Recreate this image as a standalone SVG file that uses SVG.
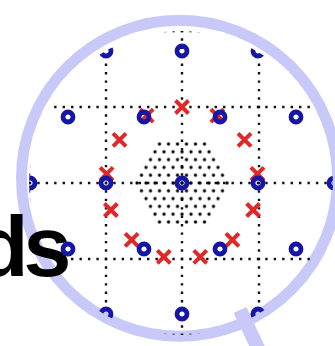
<svg xmlns="http://www.w3.org/2000/svg" xmlns:xlink="http://www.w3.org/1999/xlink" width="335" height="346" viewBox="0 0 335 346">
<style>
.ring{fill:none;stroke:#c9c9f9;stroke-width:11}
.handle{stroke:#c9c9f9;stroke-width:14;stroke-linecap:butt}
.grid{stroke:#111;stroke-width:2.4;stroke-dasharray:2.4 6.044;fill:none}
.o{fill:none;stroke:#1616a6;stroke-width:4.8}
.x{fill:none;stroke:#e02828;stroke-width:4;stroke-linecap:butt}
.big{font-family:"Liberation Sans",Arial,sans-serif;font-weight:bold;font-size:86px;fill:#000;letter-spacing:-5px}
</style>
<defs>
<clipPath id="lens"><circle cx="181" cy="183" r="152"/></clipPath>
<pattern id="dots" patternUnits="userSpaceOnUse" x="179.75" y="179.103" width="9" height="15.588">
<circle cx="2.25" cy="3.897" r="1.65" fill="#000"/>
<circle cx="6.75" cy="11.691" r="1.65" fill="#000"/>
</pattern>
<circle id="o" class="o" r="5"/>
<path id="x" class="x" d="M-6.5,-6.5L6.5,6.5M-6.5,6.5L6.5,-6.5"/>
</defs>
<rect width="335" height="346" fill="#fff"/>
<g id="magnifier">
<line class="handle" x1="240" y1="310" x2="264" y2="361"/>
<circle class="ring" cx="179.5" cy="178.2" r="158"/>
</g>
<g id="label">
<text class="big" x="-24" y="276">ds</text>
</g>
<g id="lens-content" clip-path="url(#lens)">
<g id="connectors">
<line class="grid" x1="-4.97" y1="31" x2="345" y2="31"/>
<line class="grid" x1="-4.97" y1="107" x2="345" y2="107"/>
<line class="grid" x1="-4.97" y1="183" x2="345" y2="183"/>
<line class="grid" x1="-4.97" y1="259" x2="345" y2="259"/>
<line class="grid" x1="-4.97" y1="335" x2="345" y2="335"/>
<line class="grid" x1="29" y1="-3.97" x2="29" y2="350"/>
<line class="grid" x1="106" y1="-3.97" x2="106" y2="350"/>
<line class="grid" x1="182" y1="-3.97" x2="182" y2="350"/>
<line class="grid" x1="259" y1="-3.97" x2="259" y2="350"/>
</g>
<g id="cluster">
<polygon points="231,183 206.5,225.4 157.5,225.4 133,183 157.5,140.6 206.5,140.6" fill="url(#dots)"/>
</g>
<g id="crosses">
<use xlink:href="#x" x="182" y="107"/>
<use xlink:href="#x" x="217.3" y="115.7"/>
<use xlink:href="#x" x="244.5" y="139.8"/>
<use xlink:href="#x" x="257.4" y="173.8"/>
<use xlink:href="#x" x="253.1" y="210"/>
<use xlink:href="#x" x="232.4" y="239.9"/>
<use xlink:href="#x" x="200.2" y="256.8"/>
<use xlink:href="#x" x="163.8" y="256.8"/>
<use xlink:href="#x" x="131.6" y="239.9"/>
<use xlink:href="#x" x="110.9" y="210"/>
<use xlink:href="#x" x="106.6" y="173.8"/>
<use xlink:href="#x" x="119.5" y="139.8"/>
<use xlink:href="#x" x="146.7" y="115.7"/>
</g>
<g id="circles">
<use xlink:href="#o" x="106" y="51"/>
<use xlink:href="#o" x="182" y="51"/>
<use xlink:href="#o" x="258" y="51"/>
<use xlink:href="#o" x="68" y="117"/>
<use xlink:href="#o" x="144" y="117"/>
<use xlink:href="#o" x="220" y="117"/>
<use xlink:href="#o" x="296" y="117"/>
<use xlink:href="#o" x="30" y="183"/>
<use xlink:href="#o" x="106" y="183"/>
<use xlink:href="#o" x="182" y="183"/>
<use xlink:href="#o" x="258" y="183"/>
<use xlink:href="#o" x="334" y="183"/>
<use xlink:href="#o" x="68" y="249"/>
<use xlink:href="#o" x="144" y="249"/>
<use xlink:href="#o" x="220" y="249"/>
<use xlink:href="#o" x="296" y="249"/>
<use xlink:href="#o" x="106" y="314"/>
<use xlink:href="#o" x="182" y="314"/>
<use xlink:href="#o" x="258" y="314"/>
</g>
</g>
</svg>
